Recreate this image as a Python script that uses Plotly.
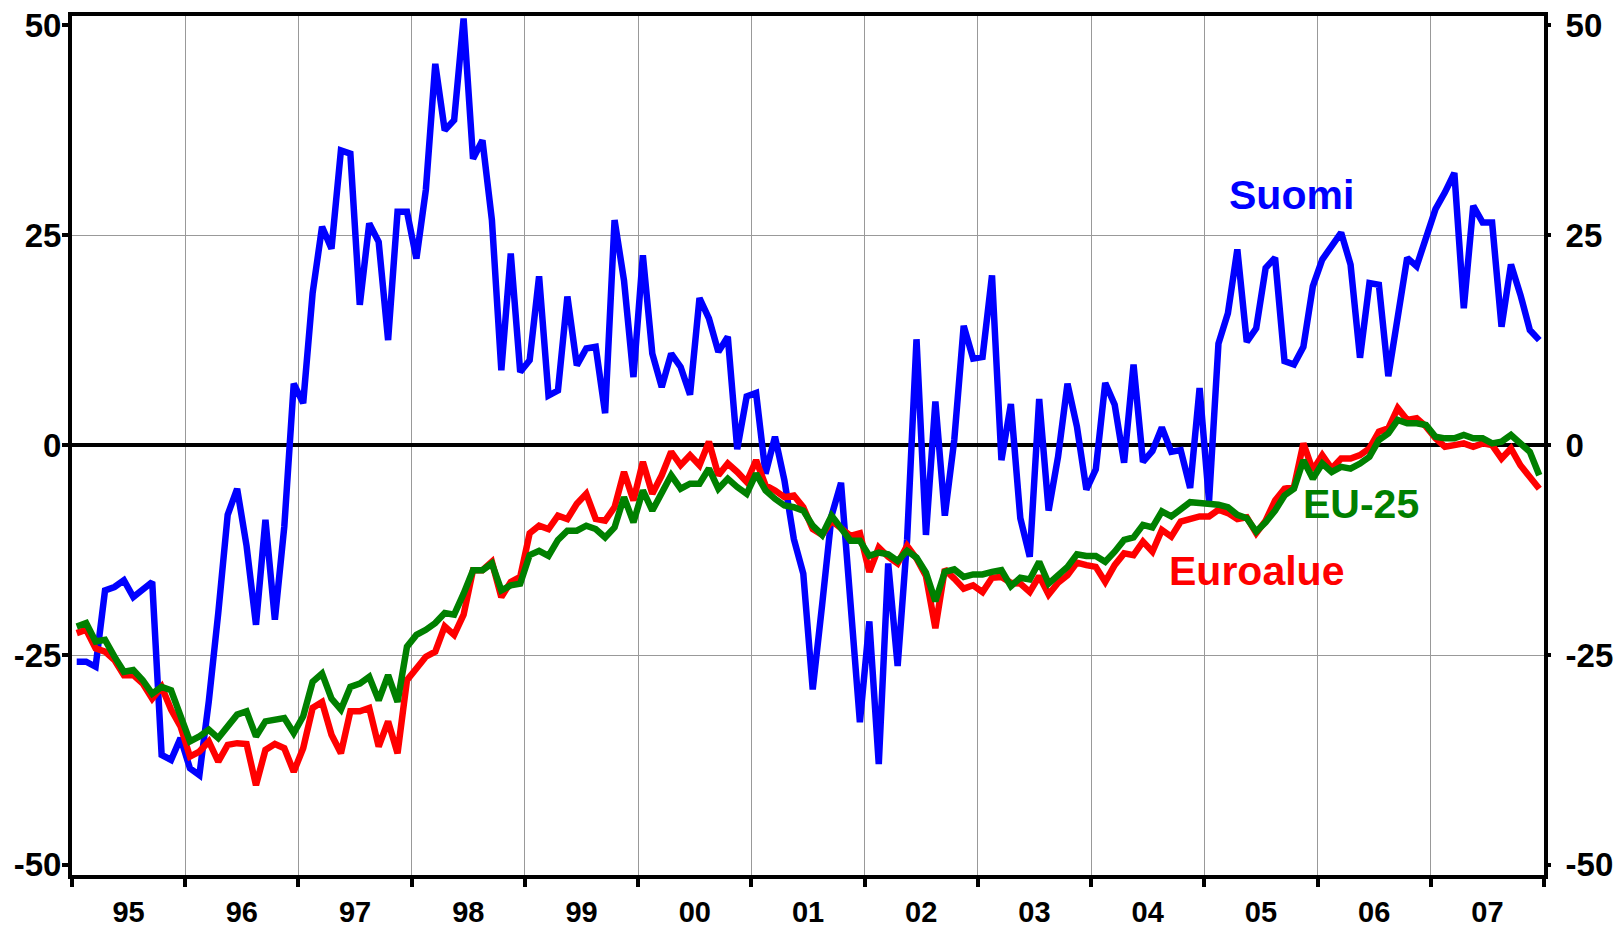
import plotly.graph_objects as go

# ---- data (monthly, Jan 1995 - Dec 2007) ----
year_labels = ["95", "96", "97", "98", "99", "00", "01", "02", "03", "04", "05", "06", "07"]

suomi = [
    -25.8, -25.8, -26.4, -17.3, -16.9, -16.1, -18.1, -17.3, -16.3, -36.9, -37.5, -34.9,
    -38.5, -39.3, -30.5, -20.0, -8.3, -5.2, -12.0, -21.4, -8.9, -20.8, -9.7, 7.3,
    5.0, 18.1, 26.0, 23.4, 35.1, 34.7, 16.7, 26.4, 24.2, 12.5, 27.8, 27.8,
    22.2, 30.4, 45.4, 37.5, 38.7, 50.8, 34.1, 36.3, 26.8, 8.9, 22.8, 8.7,
    10.1, 20.1, 5.9, 6.5, 17.7, 9.5, 11.5, 11.7, 3.8, 26.8, 19.6, 8.1,
    22.6, 10.9, 6.9, 10.9, 9.3, 6.0, 17.5, 15.1, 11.1, 12.9, -0.5, 5.8,
    6.2, -3.4, 1.0, -4.2, -11.2, -15.3, -29.1, -19.0, -8.4, -4.5, -19.0, -33.0,
    -21.0, -38.0, -14.1, -26.3, -11.3, 12.6, -10.7, 5.2, -8.4, 0.6, 14.2, 10.3,
    10.5, 20.2, -1.8, 4.9, -8.7, -13.3, 5.5, -7.8, -1.4, 7.3, 2.2, -5.3,
    -2.9, 7.4, 4.8, -2.1, 9.6, -2.0, -0.7, 2.1, -0.8, -0.6, -5.1, 6.8,
    -6.7, 12.1, 15.7, 23.3, 12.3, 13.9, 21.1, 22.3, 10.0, 9.6, 11.7, 18.9,
    22.1, 23.7, 25.3, 21.5, 10.4, 19.3, 19.1, 8.2, 14.7, 22.3, 21.3, 24.7,
    28.1, 30.1, 32.4, 16.3, 28.5, 26.5, 26.5, 14.1, 21.5, 17.9, 13.7, 12.5,
]

euroalue = [
    -22.4, -22.0, -24.2, -24.6, -25.6, -27.4, -27.4, -28.4, -30.2, -28.8, -31.5, -33.5,
    -37.1, -36.5, -35.3, -37.7, -35.7, -35.5, -35.6, -40.5, -36.3, -35.6, -36.1, -38.9,
    -36.1, -31.3, -30.6, -34.5, -36.7, -31.7, -31.7, -31.3, -35.9, -32.9, -36.7, -28.0,
    -26.6, -25.2, -24.6, -21.6, -22.6, -20.2, -14.9, -14.9, -13.9, -18.1, -16.3, -15.7,
    -10.5, -9.6, -10.0, -8.4, -8.8, -7.0, -5.8, -8.8, -9.0, -7.4, -3.2, -6.6,
    -2.0, -5.8, -3.6, -0.8, -2.4, -1.2, -2.4, 0.4, -3.6, -2.2, -3.2, -4.4,
    -1.8, -4.8, -5.4, -6.2, -6.0, -7.4, -10.0, -10.7, -9.0, -9.8, -10.8, -10.5,
    -15.1, -12.2, -13.3, -14.1, -12.0, -13.5, -15.6, -21.8, -14.8, -15.9, -17.1, -16.7,
    -17.5, -15.8, -15.7, -16.4, -16.5, -17.5, -15.6, -17.8, -16.4, -15.5, -14.0, -14.3,
    -14.5, -16.3, -14.3, -12.9, -13.1, -11.5, -12.7, -10.1, -10.9, -9.1, -8.7, -8.5,
    -8.5, -7.7, -8.1, -8.8, -8.6, -10.5, -9.0, -6.6, -5.2, -5.0, 0.2, -3.0,
    -1.2, -2.8, -1.6, -1.6, -1.2, -0.4, 1.6, 2.0, 4.4, 3.0, 3.2, 2.2,
    0.8, -0.2, 0.0, 0.2, -0.2, 0.2, 0.0, -1.6, -0.4, -2.4, -3.8, -5.2,
]

eu25 = [
    -21.6, -21.2, -23.4, -23.2, -25.2, -27.0, -26.8, -28.0, -29.6, -28.8, -29.2, -32.0,
    -35.3, -34.7, -33.9, -34.9, -33.5, -32.1, -31.7, -34.7, -32.9, -32.7, -32.5, -34.3,
    -32.3, -28.2, -27.2, -30.2, -31.5, -28.8, -28.4, -27.6, -30.4, -27.4, -30.6, -24.0,
    -22.6, -22.0, -21.2, -20.0, -20.2, -17.7, -14.9, -14.9, -14.1, -17.3, -16.7, -16.5,
    -13.1, -12.6, -13.2, -11.3, -10.2, -10.2, -9.6, -10.0, -11.0, -9.8, -6.2, -9.2,
    -5.4, -7.8, -5.8, -3.6, -5.2, -4.6, -4.6, -2.8, -5.2, -4.0, -5.0, -5.8,
    -3.4, -5.4, -6.4, -7.2, -7.4, -7.8, -9.6, -10.7, -8.4, -10.0, -11.4, -11.4,
    -13.2, -12.8, -13.0, -13.8, -12.6, -13.4, -15.2, -18.6, -15.1, -14.8, -15.7, -15.4,
    -15.4, -15.1, -14.9, -16.8, -15.8, -16.0, -13.9, -16.5, -15.5, -14.5, -13.0, -13.2,
    -13.2, -13.9, -12.7, -11.3, -11.0, -9.5, -9.8, -7.9, -8.5, -7.7, -6.8, -6.9,
    -7.0, -7.1, -7.4, -8.3, -8.7, -10.3, -9.2, -7.8, -6.0, -5.2, -1.8, -4.0,
    -2.2, -3.2, -2.6, -2.8, -2.2, -1.4, 0.6, 1.4, 3.0, 2.6, 2.6, 2.4,
    1.0, 0.8, 0.8, 1.2, 0.8, 0.8, 0.2, 0.4, 1.2, 0.2, -0.8, -3.6,
]

y_ticks = [-50, -25, 0, 25, 50]
y_ticktext = ["-50", "-25", "0", "25", "50"]   # plain hyphen, as in the original

# ---- positions ----
n_months = len(suomi)
months = [i + 0.5 for i in range(n_months)]          # centre of each month
year_starts = [12 * k for k in range(len(year_labels) + 1)]
year_mids = [12 * k + 6 for k in range(len(year_labels))]

FONT = "Liberation Sans, Arial, sans-serif"
LW = 6.5

fig = go.Figure()
fig.add_trace(go.Scatter(x=months, y=suomi, mode="lines", name="Suomi",
                         line=dict(color="#0000FF", width=LW)))
fig.add_trace(go.Scatter(x=months, y=euroalue, mode="lines", name="Euroalue",
                         line=dict(color="#FF0000", width=LW)))
fig.add_trace(go.Scatter(x=months, y=eu25, mode="lines", name="EU-25",
                         line=dict(color="#008000", width=LW), yaxis="y2"))

YR = [-51.2, 51.1]
xfont = dict(family=FONT, size=29, color="black", weight="bold")
yfont = dict(family=FONT, size=33, color="black", weight="bold")

fig.update_layout(
    width=1617, height=928,
    margin=dict(l=72, r=73, t=16, b=53, autoexpand=False),
    paper_bgcolor="white", plot_bgcolor="white",
    showlegend=False,
    xaxis=dict(
        range=[0, n_months], tickmode="array", tickvals=year_mids, ticktext=year_labels,
        ticks="", showgrid=False, zeroline=False, automargin=False,
        showline=True, mirror=True, linecolor="black", linewidth=4,
        tickfont=xfont, ticklabelstandoff=8,
        minor=dict(tickmode="array", tickvals=year_starts, ticks="outside",
                   ticklen=8, tickwidth=4, tickcolor="black",
                   showgrid=True, gridcolor="#999999", gridwidth=1),
    ),
    yaxis=dict(
        range=YR, tickmode="array", tickvals=y_ticks, ticktext=y_ticktext,
        ticks="outside", ticklen=6, tickwidth=4, tickcolor="black",
        showgrid=False, zeroline=True, zerolinecolor="black", zerolinewidth=4,
        showline=True, mirror=True, linecolor="black", linewidth=4,
        tickfont=yfont, automargin=False, ticklabelstandoff=-6,
        minor=dict(tickmode="array", tickvals=[-25, 25], ticks="",
                   showgrid=True, gridcolor="#999999", gridwidth=1),
    ),
    yaxis2=dict(
        range=YR, overlaying="y", side="right", tickmode="array",
        tickvals=y_ticks, ticktext=y_ticktext,
        ticks="outside", ticklen=6, tickwidth=4, tickcolor="black",
        showgrid=False, zeroline=False, showline=False, automargin=False,
        tickfont=yfont, ticklabelstandoff=8,
    ),
    annotations=[
        dict(x=129.2, y=29.8, xref="x", yref="y", text="Suomi", showarrow=False,
             font=dict(family=FONT, size=41, color="#0000FF", weight="bold")),
        dict(x=136.6, y=-7.0, xref="x", yref="y", text="EU-25", showarrow=False,
             font=dict(family=FONT, size=41, color="#008000", weight="bold")),
        dict(x=125.5, y=-15.0, xref="x", yref="y", text="Euroalue", showarrow=False,
             font=dict(family=FONT, size=41, color="#FF0000", weight="bold")),
    ],
)

fig.write_html(
    "out.html",
    config={"displayModeBar": False},
    post_script="document.body.style.margin='0px';document.body.style.overflow='hidden';",
)
